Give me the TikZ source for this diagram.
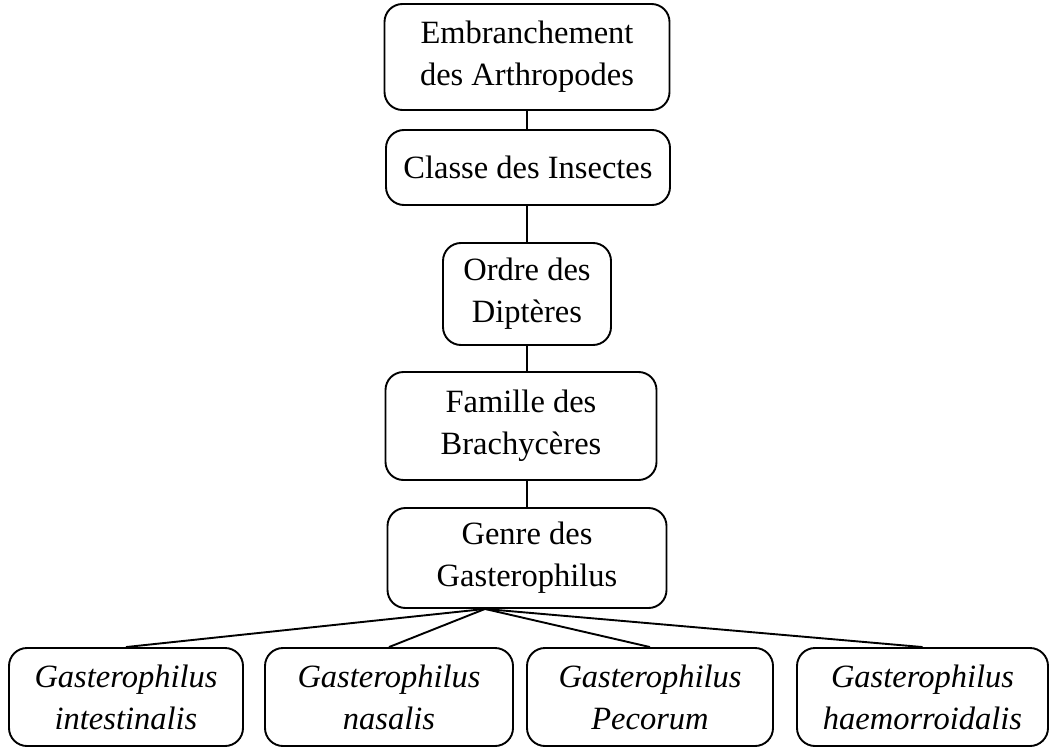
\documentclass[tikz,border=0pt]{standalone}
\usepackage{fontspec}
\setmainfont{Liberation Serif}
\begin{document}
\begin{tikzpicture}[x=1pt,y=-1pt,
  box/.style={draw=black, line width=1.9pt, rounded corners=18pt, align=center,
    inner sep=0pt, font=\fontsize{32.5}{42}\selectfont},
  link/.style={draw=black, line width=1.9pt}]
\useasboundingbox (0,0) rectangle (1057,749);
\node[box, minimum width=285, minimum height=106] (b1) at (527,57) {Embranchement\\des Arthropodes};
\node[box, minimum width=284, minimum height=75] (b2) at (528,167.5) {Classe des Insectes};
\node[box, minimum width=168, minimum height=102] (b3) at (527,294) {Ordre des\\Diptères};
\node[box, minimum width=271, minimum height=108] (b4) at (521,426) {Famille des\\Brachycères};
\node[box, minimum width=279, minimum height=100] (b5) at (527,558) {Genre des\\Gasterophilus};
\node[box, minimum width=234, minimum height=98] (sa) at (126,697) {\textit{Gasterophilus}\\\textit{intestinalis}};
\node[box, minimum width=248, minimum height=98] (sb) at (389,697) {\textit{Gasterophilus}\\\textit{nasalis}};
\node[box, minimum width=246, minimum height=98] (sc) at (650,697) {\textit{Gasterophilus}\\\textit{Pecorum}};
\node[box, minimum width=251, minimum height=98] (sd) at (922.5,697) {\textit{Gasterophilus}\\\textit{haemorroidalis}};
\coordinate (j) at ([xshift=-42pt]b5.south);
\draw[link] (b1.south -| b3.center) -- (b2.north -| b3.center);
\draw[link] (b2.south -| b3.center) -- (b3.north);
\draw[link] (b3.south) -- (b4.north -| b3.center);
\draw[link] (b4.south -| b3.center) -- (b5.north -| b3.center);
\draw[link] (j) -- (sa.north);
\draw[link] (j) -- (sb.north);
\draw[link] (j) -- (sc.north);
\draw[link] (j) -- (sd.north);
\end{tikzpicture}
\end{document}
